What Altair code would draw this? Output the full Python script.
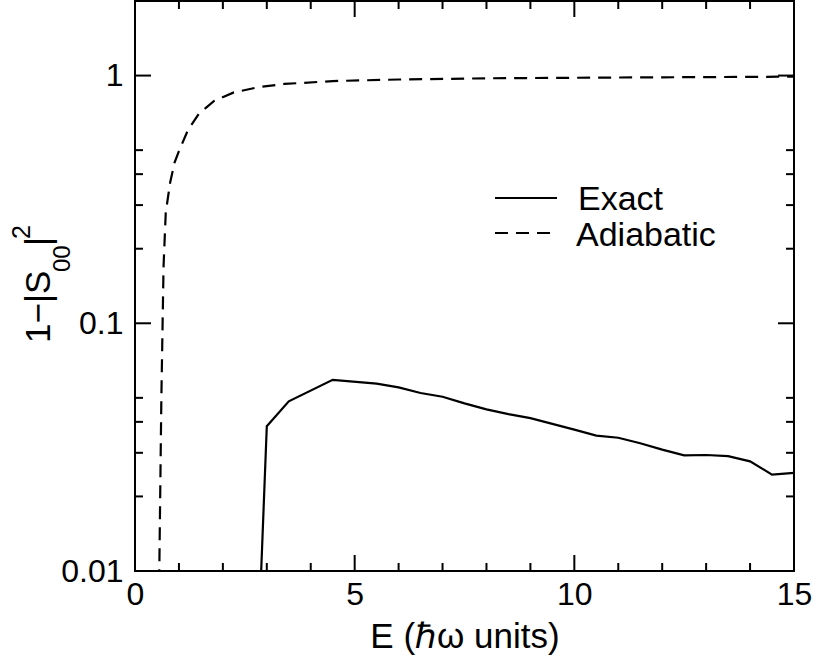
import altair as alt
import pandas as pd

FONT = "Liberation Sans"
W, H = 659, 570

# Exact result: 1-|S00|^2 versus collision energy
exact_E = [2.5, 3.0, 3.5, 4.5, 5.5, 6.0, 6.5, 7.0, 7.5, 8.0, 8.5, 9.0, 10.0,
           10.5, 11.0, 11.5, 12.0, 12.5, 13.0, 13.5, 14.0, 14.5, 15.0]
exact_P = [0.0002, 0.0384, 0.0484, 0.0591, 0.0571, 0.0551, 0.0523, 0.0505,
           0.0475, 0.0449, 0.0430, 0.0414, 0.0372, 0.0352, 0.0345, 0.0328,
           0.0309, 0.0293, 0.0294, 0.0291, 0.0277, 0.0245, 0.0249]

# Adiabatic approximation
adiab_E = [0.55, 0.6, 0.65, 0.7, 0.8, 0.9, 1.0, 1.2, 1.45, 1.8, 2.25, 2.8,
           3.4, 4.5, 6.0, 8.0, 10.0, 12.0, 15.0]
adiab_P = [0.009, 0.05, 0.17, 0.28, 0.37, 0.445, 0.495, 0.60, 0.70, 0.79,
           0.855, 0.897, 0.925, 0.95, 0.964, 0.975, 0.98, 0.984, 0.99]

# Axis tick positions
x_major = [0, 5, 10, 15]
x_minor = [1, 2, 3, 4, 6, 7, 8, 9, 11, 12, 13, 14]
y_major = [0.01, 0.1, 1]
y_minor = [0.02, 0.03, 0.04, 0.05, 0.2, 0.3, 0.4, 0.5]

series = ["Exact", "Adiabatic"]

LW = 2.2

x_scale = alt.Scale(domain=[0, 15], nice=False, zero=False)
y_scale = alt.Scale(type="log", domain=[0.01, 2], nice=False)

x_axis = alt.Axis(values=x_major, title="E (ℏω units)", grid=False, ticks=False,
                  domain=False, labelFont=FONT, labelFontSize=32, labelColor="black",
                  labelPadding=8, labelFlush=False, titleFont=FONT, titleFontSize=35,
                  titleFontWeight="normal", titleColor="black", titlePadding=9)
y_axis = alt.Axis(values=y_major, format="~g", title="", grid=False, ticks=False,
                  domain=False, labelFont=FONT, labelFontSize=32, labelColor="black",
                  labelPadding=12, labelFlush=False)


def curve(E, P, **style):
    return alt.Chart(pd.DataFrame({"E": E, "P": P})).mark_line(
        color="black", strokeWidth=LW, clip=True, **style
    ).encode(
        x=alt.X("E:Q", scale=x_scale, axis=x_axis),
        y=alt.Y("P:Q", scale=y_scale, axis=y_axis),
    )


exact = curve(exact_E, exact_P)
adiab = curve(adiab_E, adiab_P, strokeDash=[13, 8])


def x_ticks(vals, length, bottom):
    return alt.Chart(pd.DataFrame({"E": vals})).mark_rule(
        color="black", strokeWidth=2
    ).encode(
        x=alt.X("E:Q", scale=x_scale, axis=x_axis),
        y=alt.value(H if bottom else 0),
        y2=alt.value(H - length if bottom else length),
    )


def y_ticks(vals, length, left):
    return alt.Chart(pd.DataFrame({"P": vals})).mark_rule(
        color="black", strokeWidth=2
    ).encode(
        y=alt.Y("P:Q", scale=y_scale, axis=y_axis),
        x=alt.value(0 if left else W),
        x2=alt.value(length if left else W - length),
    )


ticks = [
    x_ticks(x_major, 16, True), x_ticks(x_minor, 8, True),
    x_ticks(x_major, 16, False), x_ticks(x_minor, 8, False),
    y_ticks(y_major, 16, True), y_ticks(y_minor, 8, True),
    y_ticks(y_major, 16, False), y_ticks(y_minor, 8, False),
]


def label_piece(text, px, py, size):
    return alt.Chart(pd.DataFrame({"t": [text]})).mark_text(
        angle=270, align="left", baseline="alphabetic", font=FONT,
        fontSize=size, color="black"
    ).encode(x=alt.value(px), y=alt.value(py), text="t:N")


# y-axis title 1-|S00|^2 built from pieces (subscript and superscript)
y_title = [
    label_piece("1−|S", -85, 342, 35),
    label_piece("00", -65, 271, 24),
    label_piece("|", -85, 245, 35),
    label_piece("2", -105, 238, 25),
]

# legend
legend_lines = [
    alt.Chart(pd.DataFrame({"s": [series[0]]})).mark_rule(
        color="black", strokeWidth=LW
    ).encode(x=alt.value(360), x2=alt.value(422), y=alt.value(197)),
    alt.Chart(pd.DataFrame({"s": [series[1]]})).mark_rule(
        color="black", strokeWidth=LW, strokeDash=[13, 8]
    ).encode(x=alt.value(360), x2=alt.value(417), y=alt.value(232)),
]
legend_text = [
    alt.Chart(pd.DataFrame({"s": [series[0]]})).mark_text(
        align="left", baseline="alphabetic", font=FONT, fontSize=34, color="black"
    ).encode(x=alt.value(443), y=alt.value(209), text="s:N"),
    alt.Chart(pd.DataFrame({"s": [series[1]]})).mark_text(
        align="left", baseline="alphabetic", font=FONT, fontSize=34, color="black"
    ).encode(x=alt.value(441), y=alt.value(245), text="s:N"),
]

chart = alt.layer(
    exact, adiab, *ticks, *y_title, *legend_lines, *legend_text
).properties(
    width=W, height=H,
    autosize=alt.AutoSizeParams(type="none"),
    padding={"left": 135, "top": 1, "right": 29, "bottom": 92},
    background="white",
).configure_view(
    stroke="black", strokeWidth=2
)

chart.save("out.html", embed_options={"renderer": "svg", "actions": False})
